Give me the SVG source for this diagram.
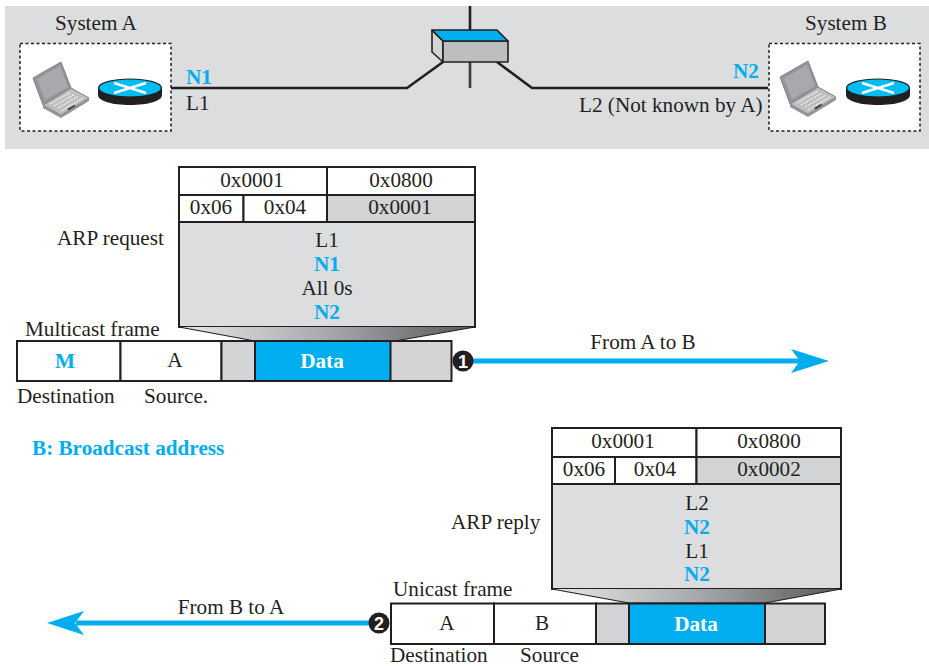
<svg xmlns="http://www.w3.org/2000/svg" width="929" height="666" viewBox="0 0 929 666">
<style>
text{font-family:"Liberation Serif","Times New Roman",serif;font-size:21.2px;fill:#231f20}
.c{text-anchor:middle}
.b{font-weight:bold;fill:#00adef}
.w{font-weight:bold;fill:#fff}
.box{stroke:#231f20;stroke-width:2;fill:#fff}
.lg{stroke:#231f20;stroke-width:2;fill:#dcddde}
.dg{stroke:#231f20;stroke-width:2;fill:#d1d3d4}
.blue{stroke:#231f20;stroke-width:2;fill:#00adef}
.dash{fill:#fff;stroke:#231f20;stroke-width:1.5;stroke-dasharray:3 2.5}
.net{fill:none;stroke:#231f20;stroke-width:2.6}
.arr{stroke:#00adef;stroke-width:5;fill:none}
.num{font-family:"Liberation Sans",Arial,sans-serif;font-size:18px;font-weight:bold;fill:#fff}
</style>
<defs>
<linearGradient id="fade" x1="0" x2="1" y1="0" y2="0">
<stop offset="0" stop-color="#e6e7e8"/><stop offset="0.5" stop-color="#a7a9ac"/><stop offset="1" stop-color="#58595b"/>
</linearGradient>
<g id="laptop">
<polygon points="0,17 28,1 38,27 10,44" fill="#939598" stroke="#808285" stroke-width="1"/>
<polygon points="4,18 27,5 35,26 12,39" fill="#a7a9ac"/>
<polygon points="10,44 38,27 56,37 28,54" fill="#bcbec0" stroke="#808285" stroke-width="1"/>
<path d="M17,43 L38,31 M21,45 L42,33 M25,47 L46,35 M28,50 L50,37" stroke="#f1f2f2" stroke-width="1.3" stroke-dasharray="2 1" fill="none"/>
<polygon points="34,48 41,44 44,46 37,50" fill="#414042"/>
<polygon points="28,54 56,37 56,40 28,57 10,47 10,44" fill="#939598"/>
</g>
<g id="router">
<path d="M0,9 V16 C0,22 14,26 32,26 C50,26 64,22 64,16 V9 Z" fill="#231f20"/>
<ellipse cx="32" cy="9" rx="31.5" ry="9" fill="#00bdf2" stroke="#231f20" stroke-width="1.2"/>
<path d="M16,4 L48,14 M16,14 L48,4" stroke="#fff" stroke-width="2.4"/>
</g>
</defs>

<rect id="band" x="5" y="6" width="924" height="143" fill="#dcddde"/>

<g id="connectors">
<polyline class="net" points="171,88 407,88 443,62"/>
<polyline class="net" points="768,88 532,88 497,62"/>
<line class="net" x1="470" y1="6" x2="470" y2="30"/>
<line class="net" x1="470" y1="62" x2="470" y2="88" stroke-opacity="0.85"/>
<line class="arr" x1="470" y1="361" x2="800" y2="361"/>
<polygon points="829,361 791,349 800,361 791,373" fill="#00adef"/>
<line class="arr" x1="372" y1="623" x2="76" y2="623"/>
<polygon points="47,623 84,611 75,623 84,635" fill="#00adef"/>
</g>

<g id="system-a">
<text x="55" y="30">System A</text>
<rect class="dash" x="20" y="43.500" width="151" height="87.500"/>
<use href="#laptop" x="33" y="61"/>
<use href="#router" x="98" y="79"/>
</g>

<g id="system-b">
<text x="805" y="30">System B</text>
<rect class="dash" x="769" y="43.500" width="151" height="87.500"/>
<use href="#laptop" x="780" y="60"/>
<use href="#router" x="846" y="79"/>
</g>

<g id="switch" stroke="#231f20" stroke-width="1.6" stroke-linejoin="round">
<polygon points="432,30 443,41 443,62 432,52" fill="#d1d3d4"/>
<polygon points="443,41 508,41 508,62 443,62" fill="#bcbec0"/>
<polygon points="432,30 497,30 508,41 443,41" fill="#00adef"/>
</g>

<g id="link-labels">
<text x="186" y="84" class="b">N1</text>
<text x="186" y="110">L1</text>
<text x="733" y="78" class="b">N2</text>
<text x="579" y="112">L2 (Not known by A)</text>
</g>

<g id="arp-request">
<rect class="box" x="179" y="167" width="148" height="28"/>
<rect class="box" x="327" y="167" width="148" height="28"/>
<rect class="box" x="179" y="195" width="64.500" height="27"/>
<rect class="box" x="243.500" y="195" width="83.500" height="27"/>
<rect class="dg" x="327" y="195" width="148" height="27"/>
<rect class="lg" x="179" y="222" width="296" height="105"/>
<text class="c" x="252" y="187">0x0001</text>
<text class="c" x="401" y="187">0x0800</text>
<text class="c" x="211" y="214">0x06</text>
<text class="c" x="285" y="214">0x04</text>
<text class="c" x="400" y="214">0x0001</text>
<text class="c" x="327" y="247">L1</text>
<text class="c b" x="327" y="271">N1</text>
<text class="c" x="327" y="295">All 0s</text>
<text class="c b" x="327" y="319">N2</text>
<text x="57" y="245">ARP request</text>
</g>

<g id="multicast-frame">
<polygon points="179,327 475,327 395,341 255,341" fill="url(#fade)"/>
<path d="M179,327 L255,341 M475,327 L395,341" stroke="#231f20" stroke-width="1.200" fill="none"/>
<rect class="box" x="17" y="341" width="103.500" height="40"/>
<rect class="box" x="120.500" y="341" width="101" height="40"/>
<rect class="dg" x="221.500" y="341" width="230" height="40"/>
<rect class="blue" x="255" y="341" width="135.500" height="40"/>
<text class="c b" x="65" y="368">M</text>
<text class="c" x="175" y="367">A</text>
<text class="c w" x="322" y="368">Data</text>
<text x="25" y="336">Multicast frame</text>
<text x="17" y="403">Destination</text>
<text x="144" y="403">Source.</text>
</g>

<g id="step-1">
<circle cx="463" cy="361" r="10.500" fill="#231f20"/>
<text class="c num" x="463" y="367.500">1</text>
<text class="c" x="643" y="349">From A to B</text>
</g>

<text id="legend" x="32" y="455" class="b">B: Broadcast address</text>

<g id="arp-reply">
<rect class="box" x="552" y="428" width="144.500" height="29"/>
<rect class="box" x="696.500" y="428" width="144.500" height="29"/>
<rect class="box" x="552" y="457" width="63" height="27"/>
<rect class="box" x="615" y="457" width="81.500" height="27"/>
<rect class="dg" x="696.500" y="457" width="144.500" height="27"/>
<rect class="lg" x="552" y="484" width="289" height="105"/>
<text class="c" x="623" y="448">0x0001</text>
<text class="c" x="769" y="448">0x0800</text>
<text class="c" x="584" y="476">0x06</text>
<text class="c" x="655" y="476">0x04</text>
<text class="c" x="769" y="476">0x0002</text>
<text class="c" x="697" y="510">L2</text>
<text class="c b" x="697" y="534">N2</text>
<text class="c" x="697" y="558">L1</text>
<text class="c b" x="697" y="581">N2</text>
<text x="451" y="529">ARP reply</text>
</g>

<g id="unicast-frame">
<polygon points="552,589 841,589 765,603 629,603" fill="url(#fade)"/>
<path d="M552,589 L629,603 M841,589 L765,603" stroke="#231f20" stroke-width="1.200" fill="none"/>
<rect class="box" x="391" y="603.500" width="103" height="40.500"/>
<rect class="box" x="494" y="603.500" width="102" height="40.500"/>
<rect class="dg" x="596" y="603.500" width="229" height="40.500"/>
<rect class="blue" x="629" y="603.500" width="136" height="40.500"/>
<text class="c" x="447" y="630">A</text>
<text class="c" x="542" y="630">B</text>
<text class="c w" x="696" y="631">Data</text>
<text x="393" y="596">Unicast frame</text>
<text x="390" y="662">Destination</text>
<text x="520" y="662">Source</text>
</g>

<g id="step-2">
<circle cx="379" cy="623" r="10.500" fill="#231f20"/>
<text class="c num" x="379" y="629.500">2</text>
<text class="c" x="231" y="614">From B to A</text>
</g>
</svg>
